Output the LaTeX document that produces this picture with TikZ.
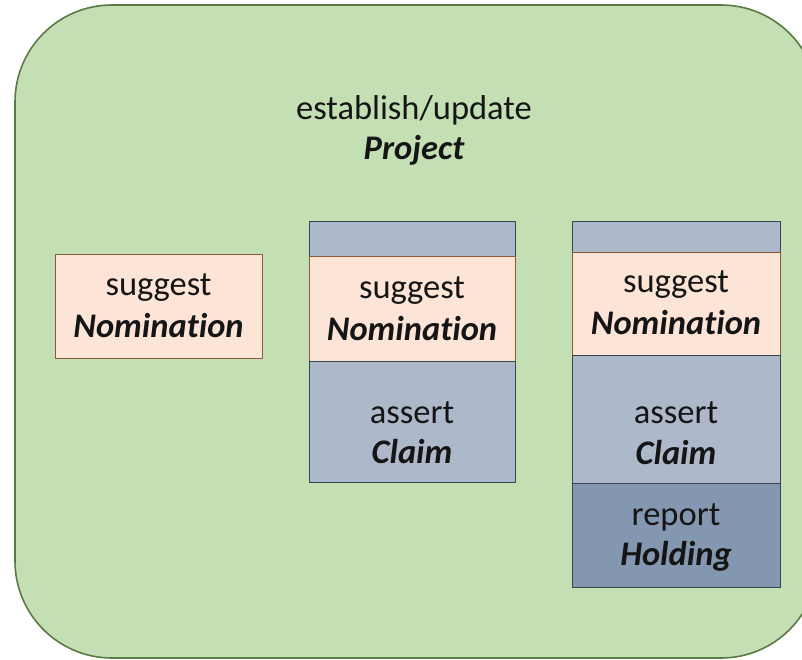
\documentclass[tikz,border=0pt]{standalone}
\usepackage{fontspec}
\setmainfont[Ligatures=NoCommon]{Carlito}
\definecolor{outerfill}{HTML}{C5DFB4}
\definecolor{outerline}{HTML}{5A7A44}
\definecolor{peach}{HTML}{FCE4D6}
\definecolor{peachline}{HTML}{8A5A3A}
\definecolor{slate}{HTML}{ADB9CA}
\definecolor{slatedark}{HTML}{8497B0}
\definecolor{slateline}{HTML}{36464A}
\definecolor{txt}{HTML}{151515}
\tikzset{
  lbl/.style={anchor=base, inner sep=0pt, text=txt, font=\fontsize{34.5}{40}\selectfont},
  lblb/.style={lbl, font=\fontsize{34.5}{40}\selectfont\bfseries\itshape},
  peachbox/.style={draw=peachline, fill=peach, line width=1pt},
  slatebox/.style={draw=slateline, fill=slate, line width=1pt},
  darkbox/.style={draw=slateline, fill=slatedark, line width=1pt},
}
\begin{document}
\begin{tikzpicture}[x=1pt, y=-1pt]
\useasboundingbox (0,0) rectangle (802,660);
\begin{scope}
\clip (0,0) rectangle (802,660);
\draw[fill=outerfill, draw=outerline, line width=1.6pt, rounded corners=97pt] (15,5) rectangle (818,658);
\end{scope}
% title
\node[lbl] (t1) at (414,120) {establish/update};
\node[lblb] (t2) at (414,160) {Project};
% left box
\node[peachbox, minimum width=207pt, minimum height=104pt, inner sep=0pt] (lb) at (158.5,306) {};
\node[lbl] (l1) at (158.5,295) {suggest};
\node[lblb] (l2) at (158.5,337) {Nomination};
% middle column
\draw[slatebox] (309,222) rectangle coordinate (mtop) (515,256);
\draw[peachbox] (309,256) rectangle coordinate (mpeach) (515,361);
\draw[slatebox] (309,361) rectangle coordinate (mclaim) (515,482);
\node[lbl] (m1) at (412,298) {suggest};
\node[lblb] (m2) at (412,340) {Nomination};
\node[lbl] (m3) at (412,423) {assert};
\node[lblb] (m4) at (412,463) {Claim};
% right column
\draw[slatebox] (572,222) rectangle coordinate (rtop) (780,252);
\draw[peachbox] (572,252) rectangle coordinate (rpeach) (780,355);
\draw[slatebox] (572,355) rectangle coordinate (rclaim) (780,483);
\draw[darkbox] (572,483) rectangle coordinate (rhold) (780,587);
\node[lbl] (r1) at (676,292) {suggest};
\node[lblb] (r2) at (676,334) {Nomination};
\node[lbl] (r3) at (676,423) {assert};
\node[lblb] (r4) at (676,464) {Claim};
\node[lbl] (r5) at (676,525) {report};
\node[lblb] (r6) at (676,565) {Holding};
\end{tikzpicture}
\end{document}
